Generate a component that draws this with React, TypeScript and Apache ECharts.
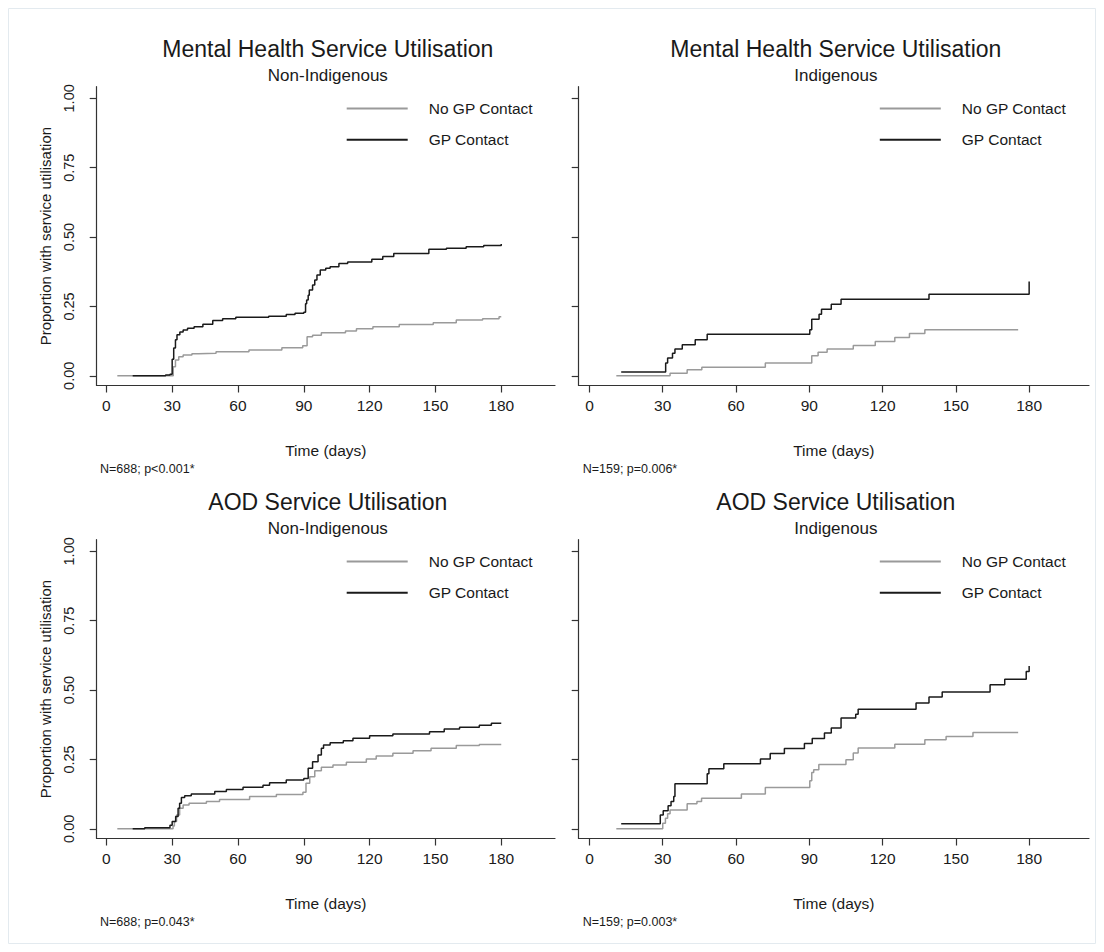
import React, { useEffect, useRef } from "react";
import * as echarts from "echarts";

// ---------- data (days, cumulative proportion) ----------
const xTicks = [0, 30, 60, 90, 120, 150, 180];
const yTicks = [0, 0.25, 0.5, 0.75, 1];
const seriesNames = ["No GP Contact", "GP Contact"];
const panelTitles = [
  "Mental Health Service Utilisation",
  "Mental Health Service Utilisation",
  "AOD Service Utilisation",
  "AOD Service Utilisation",
];
const panelSubtitles = ["Non-Indigenous", "Indigenous", "Non-Indigenous", "Indigenous"];
const panelNotes = ["N=688; p<0.001*", "N=159; p=0.006*", "N=688; p=0.043*", "N=159; p=0.003*"];

const mhNonIndNoGP = [
  [5, 0], [30.5, 0.033], [31.5, 0.057], [33, 0.069], [35, 0.075], [39, 0.079], [42, 0.081],
  [50, 0.087], [65, 0.093], [80, 0.101], [89.5, 0.108], [91.5, 0.141], [94, 0.146], [98, 0.155],
  [109, 0.161], [114, 0.17], [121.5, 0.177], [133.5, 0.185], [149, 0.191], [159.5, 0.201],
  [171.5, 0.206], [179, 0.213], [180, 0.213],
];
const mhNonIndGP = [
  [12, 0], [27, 0.003], [29, 0.006], [30, 0.06], [30.7, 0.1], [31.5, 0.13], [32.2, 0.148],
  [33.5, 0.158], [35, 0.165], [37, 0.171], [40, 0.177], [44, 0.186], [48.5, 0.199], [53, 0.206],
  [59, 0.211], [74, 0.215], [82, 0.221], [86, 0.225], [90, 0.229], [90.8, 0.26], [91.3, 0.273],
  [92, 0.29], [92.5, 0.309], [94, 0.327], [95, 0.345], [96, 0.363], [97.5, 0.381], [100, 0.388],
  [102, 0.393], [106, 0.405], [110, 0.41], [121, 0.42], [126, 0.43], [131, 0.441], [147, 0.456],
  [155, 0.46], [164, 0.465], [172, 0.47], [180, 0.475],
];
const mhIndNoGP = [
  [11, 0], [33, 0.0096], [40, 0.022], [46, 0.031], [72, 0.046], [91, 0.072], [93.6, 0.085],
  [97.3, 0.097], [108, 0.109], [117, 0.124], [125, 0.138], [131, 0.152], [137.3, 0.166],
  [175.5, 0.166],
];
const mhIndGP = [
  [13, 0.014], [31.2, 0.046], [32, 0.064], [34, 0.081], [35, 0.097], [38, 0.112], [43.3, 0.13],
  [48.2, 0.15], [90.2, 0.166], [91, 0.204], [94, 0.222], [95, 0.24], [99, 0.258], [103, 0.276],
  [139, 0.294], [180, 0.34],
];
const aodNonIndNoGP = [
  [5, 0], [30.4, 0.01], [31, 0.026], [32, 0.05], [33.4, 0.074], [35, 0.086], [37.7, 0.092],
  [45.6, 0.098], [51.6, 0.106], [65.3, 0.116], [77.5, 0.124], [89.6, 0.132], [91, 0.164],
  [92.7, 0.188], [95, 0.209], [98, 0.222], [103.3, 0.23], [109.4, 0.24], [118.5, 0.252],
  [123, 0.262], [130.6, 0.272], [139.8, 0.281], [148, 0.29], [159.5, 0.3], [170, 0.304],
  [180, 0.304],
];
const aodNonIndGP = [
  [12, 0], [17.5, 0.004], [29, 0.013], [30, 0.026], [31.6, 0.044], [32.7, 0.074], [33.4, 0.092],
  [34.2, 0.113], [35.7, 0.119], [38.7, 0.125], [49.4, 0.134], [54.7, 0.142], [62.3, 0.15],
  [71.4, 0.157], [74.4, 0.166], [82, 0.176], [90, 0.181], [92, 0.218], [94, 0.242], [96.5, 0.266],
  [98, 0.29], [99, 0.302], [102, 0.31], [108, 0.317], [112.4, 0.326], [120, 0.335], [130.6, 0.342],
  [147.3, 0.35], [154, 0.36], [161, 0.366], [170, 0.373], [175.5, 0.38], [180, 0.38],
];
const aodIndNoGP = [
  [11, 0], [30, 0.02], [31.1, 0.038], [32, 0.054], [33, 0.068], [40, 0.09], [44, 0.098],
  [45.9, 0.11], [62.2, 0.125], [72, 0.149], [90.2, 0.173], [91, 0.203], [91.8, 0.213],
  [93.9, 0.232], [105, 0.249], [108, 0.273], [110, 0.291], [125, 0.305], [137.3, 0.321],
  [146, 0.333], [157, 0.347], [175.5, 0.347],
];
const aodIndGP = [
  [13, 0.018], [29, 0.05], [30.2, 0.065], [32.2, 0.083], [33.4, 0.098], [34.5, 0.116], [35, 0.162],
  [48.2, 0.198], [48.9, 0.216], [55, 0.234], [70, 0.252], [74, 0.271], [79.8, 0.289], [88, 0.307],
  [91.2, 0.325], [96.2, 0.345], [99, 0.363], [103, 0.399], [109, 0.413], [110, 0.431],
  [133.7, 0.453], [139, 0.475], [144.4, 0.493], [164, 0.519], [170, 0.539], [178.8, 0.567],
  [180, 0.587],
];

const noGPData = [mhNonIndNoGP, mhIndNoGP, aodNonIndNoGP, aodIndNoGP];
const gpData = [mhNonIndGP, mhIndGP, aodNonIndGP, aodIndGP];

// ---------- layout ----------
const FONT = "'Liberation Sans', Arial, sans-serif";
const TEXT = "#1a1a1a";
const AXIS = "#333333";
const GRAY = "#9a9a9a";
const BLACK = "#1a1a1a";
const colLeft = [88.7, 570.7];
const colWidth = [458.3, 510.3];
const rowTop = [78.7, 531.7];
const gridHeight = 298.8;
const rowShift = [0, 453];
const legendLeft = [337.7, 870.8];
const noteLeft = [92, 574.7];

function buildOption() {
  const grid: any[] = [];
  const xAxis: any[] = [];
  const yAxis: any[] = [];
  const series: any[] = [];
  const legend: any[] = [];
  const title: any[] = [];

  for (let i = 0; i < 4; i++) {
    const col = i % 2;
    const row = Math.floor(i / 2);
    const cx = colLeft[col] + colWidth[col] / 2 + 2;
    grid.push({ left: colLeft[col], top: rowTop[row], width: colWidth[col], height: gridHeight });
    xAxis.push({
      gridIndex: i,
      type: "value",
      min: -4.4,
      max: 204.5,
      name: "Time (days)",
      nameLocation: "middle",
      nameGap: 57,
      nameTextStyle: { fontSize: 15.5, color: TEXT, fontFamily: FONT },
      axisLine: { show: true, onZero: false, lineStyle: { color: AXIS, width: 1.2 } },
      axisTick: { show: true, customValues: xTicks, length: 7, lineStyle: { color: AXIS, width: 1.2 } },
      axisLabel: { customValues: xTicks, fontSize: 15.5, color: TEXT, fontFamily: FONT, margin: 12 },
      splitLine: { show: false },
    });
    yAxis.push({
      gridIndex: i,
      type: "value",
      min: -0.035,
      max: 1.042,
      name: col === 0 ? "Proportion with service utilisation" : "",
      nameLocation: "middle",
      nameGap: 44,
      nameTextStyle: { fontSize: 15, color: TEXT, fontFamily: FONT },
      axisLine: { show: true, onZero: false, lineStyle: { color: AXIS, width: 1.2 } },
      axisTick: { show: true, customValues: yTicks, length: 7, lineStyle: { color: AXIS, width: 1.2 } },
      axisLabel: {
        show: col === 0,
        customValues: yTicks,
        rotate: 90,
        formatter: (v: number) => v.toFixed(2),
        fontSize: 14.5,
        color: TEXT,
        fontFamily: FONT,
        margin: 20,
      },
      splitLine: { show: false },
    });
    series.push({
      type: "line",
      name: seriesNames[0],
      xAxisIndex: i,
      yAxisIndex: i,
      step: "end",
      symbol: "none",
      data: noGPData[i],
      color: GRAY,
      lineStyle: { color: GRAY, width: 1.5 },
    });
    series.push({
      type: "line",
      name: seriesNames[1],
      xAxisIndex: i,
      yAxisIndex: i,
      step: "end",
      symbol: "none",
      data: gpData[i],
      color: BLACK,
      lineStyle: { color: BLACK, width: 1.5 },
    });
    legend.push({
      data: seriesNames,
      orient: "vertical",
      left: legendLeft[col],
      top: 92.5 + rowShift[row],
      itemWidth: 61,
      itemHeight: 18,
      itemGap: 15.2,
      padding: 0,
      selectedMode: false,
      itemStyle: { opacity: 0 },
      textStyle: { fontSize: 15.5, color: TEXT, fontFamily: FONT, padding: [0, 0, 0, 16] },
    });
    title.push({
      text: panelTitles[i],
      left: cx,
      textAlign: "center",
      top: 29 + rowShift[row],
      padding: 0,
      textStyle: { fontSize: 23, fontWeight: "normal", color: TEXT, fontFamily: FONT },
    });
    title.push({
      text: panelSubtitles[i],
      left: cx,
      textAlign: "center",
      top: 59 + rowShift[row],
      padding: 0,
      textStyle: { fontSize: 17, fontWeight: "normal", color: TEXT, fontFamily: FONT },
    });
    title.push({
      text: panelNotes[i],
      left: noteLeft[col],
      top: 454 + rowShift[row],
      padding: 0,
      textStyle: { fontSize: 12.5, fontWeight: "normal", color: TEXT, fontFamily: FONT },
    });
  }

  return {
    animation: false,
    backgroundColor: "#ffffff",
    textStyle: { fontFamily: FONT },
    grid,
    xAxis,
    yAxis,
    series,
    legend,
    title,
    graphic: [
      {
        type: "rect",
        shape: { x: 0.5, y: 0.5, width: 1087, height: 935 },
        style: { fill: "none", stroke: "#e3eaef", lineWidth: 1 },
        silent: true,
      },
    ],
  };
}

export default function App() {
  const ref = useRef<HTMLDivElement>(null);
  useEffect(() => {
    if (!ref.current) return;
    const chart = echarts.init(ref.current, undefined, { renderer: "svg" });
    chart.setOption(buildOption());
    return () => chart.dispose();
  }, []);
  return <div ref={ref} style={{ width: 1088, height: 936 }} />;
}
